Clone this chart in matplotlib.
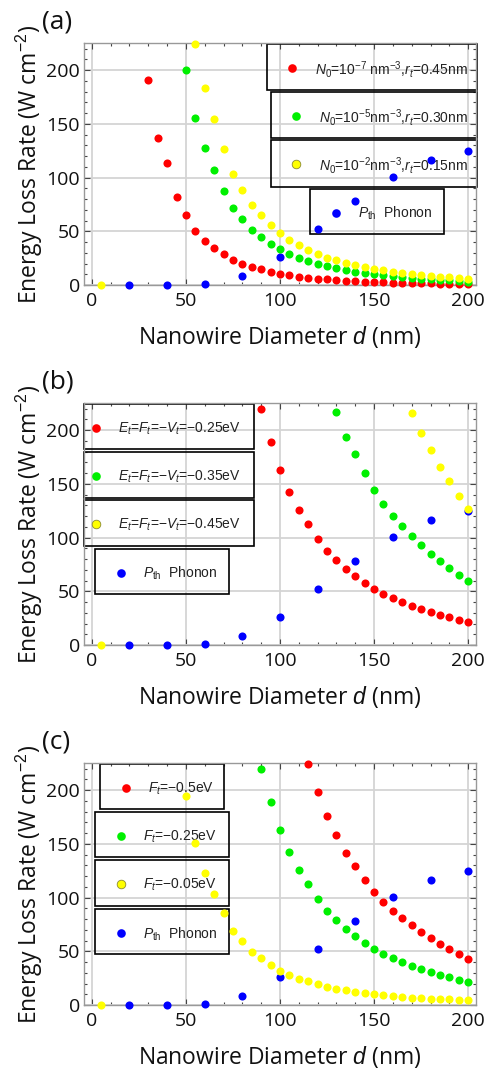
import matplotlib
matplotlib.use("Agg")
import matplotlib.pyplot as plt
from matplotlib.patches import Rectangle
from matplotlib.ticker import MultipleLocator

plt.rcParams['font.family'] = ['Open Sans', 'DejaVu Sans']
plt.rcParams['mathtext.fontset'] = 'custom'
plt.rcParams['mathtext.rm'] = 'Liberation Sans'
plt.rcParams['mathtext.it'] = 'Liberation Sans:italic'
plt.rcParams['mathtext.bf'] = 'Liberation Sans:bold'

# ---- data ----
d_phonon = [20, 40, 60, 80, 100, 120, 140, 160, 180, 200]
p_phonon = [0, 0, 1, 8.4, 26, 52, 78, 100.5, 116, 124.6]

# panel (a)
a_red_d = [30, 35, 40, 45, 50, 55, 60, 65, 70, 75, 80, 85, 90, 95, 100, 105, 110, 115, 120,
           125, 130, 135, 140, 145, 150, 155, 160, 165, 170, 175, 180, 185, 190, 195, 200]
a_red_p = [190.7, 137, 113.5, 81.9, 65.1, 50.2, 41.2, 34.7, 28.8, 23.6, 19.5, 17, 14.6, 12.1, 10.2,
           9, 7.8, 6.8, 5.9, 5.3, 4.7, 4, 3.7, 3.1, 2.8, 2.5, 2.2, 2, 1.8, 1.6, 1.5, 1.3, 1.2, 1.1, 1.0]
a_green_d = [50, 55, 60, 65, 70, 75, 80, 85, 90, 95, 100, 105, 110, 115, 120, 125, 130, 135,
             140, 145, 150, 155, 160, 165, 170, 175, 180, 185, 190, 195, 200]
a_green_p = [200, 155.3, 127.8, 107, 87.4, 71.6, 61.4, 51.2, 44.7, 38.1, 33.5, 28.8, 25.1, 22,
             19.5, 17.4, 15.8, 14, 12.4, 11.2, 9.9, 9, 8.1, 7.1, 6.5, 5.9, 5.3, 4.7, 4.3, 3.7, 3.1]
a_yellow_d = [5, 55, 60, 65, 70, 75, 80, 85, 90, 95, 100, 105, 110, 115, 120, 125, 130, 135,
              140, 145, 150, 155, 160, 165, 170, 175, 180, 185, 190, 195, 200]
a_yellow_p = [0, 224, 183, 154.4, 126.5, 103.3, 88.4, 74.4, 65.1, 55.5, 48.4, 41.9, 37.2, 32.6,
              28.8, 25.1, 23.3, 20.5, 18.3, 16.7, 14.9, 13.6, 12.1, 11.2, 9.9, 9, 8.4, 7.8, 7.1, 6.8, 5.9]

# panel (b)
b_red_d = [90, 95, 100, 105, 110, 115, 120, 125, 130, 135, 140, 145, 150, 155, 160, 165,
           170, 175, 180, 185, 190, 195, 200]
b_red_p = [219.5, 188.8, 162.8, 142, 125.6, 112.6, 98.6, 87.4, 79, 70.7, 64.2, 57.7, 52.1,
           47.4, 43.7, 40, 36.3, 33.5, 30.7, 27.9, 26, 23.3, 21.4]
b_green_d = [130, 135, 140, 145, 150, 155, 160, 165, 170, 175, 180, 185, 190, 195, 200]
b_green_p = [216.7, 193.5, 177.7, 160, 144.2, 131.2, 120, 110.7, 101.4, 93, 84.7, 78.1, 71.6, 65.1, 59.5]
b_yellow_d = [5, 170, 175, 180, 185, 190, 195, 200]
b_yellow_p = [0, 215.8, 197.2, 181.4, 165.6, 152.6, 138.6, 126.5]

# panel (c)
c_red_d = [115, 120, 125, 130, 135, 140, 145, 150, 155, 160, 165, 170, 175, 180, 185, 190, 195, 200]
c_red_p = [224.8, 198, 175.5, 157.8, 141.4, 129.3, 116.3, 105.1, 95.8, 87.4, 80.9, 74.4,
           67.9, 62.3, 56.7, 52.1, 47.4, 42.8]
c_green_d = b_red_d
c_green_p = b_red_p
c_yellow_d = [5, 50, 55, 60, 65, 70, 75, 80, 85, 90, 95, 100, 105, 110, 115, 120, 125, 130,
              135, 140, 145, 150, 155, 160, 165, 170, 175, 180, 185, 190, 195, 200]
c_yellow_p = [0, 194.4, 150.4, 122.8, 103.3, 85.6, 68.8, 59.5, 49.3, 43.7, 37.2, 31.6, 27.9,
              24.2, 22.3, 19.5, 16.7, 14.9, 14, 12.1, 11.2, 10.2, 9.3, 8.4, 7.4, 6.8, 6.5, 5.9,
              5.6, 5.3, 4.7, 4.3]

a_labels = [r'$N_0$=10$^{-7}$ nm$^{-3}$,$r_t$=0.45nm',
            r'$N_0$=10$^{-5}$nm$^{-3}$,$r_t$=0.30nm',
            r'$N_0$=10$^{-2}$nm$^{-3}$,$r_t$=0.15nm']
b_labels = [r'$E_t$=$F_t$=−$V_t$=−0.25eV',
            r'$E_t$=$F_t$=−$V_t$=−0.35eV',
            r'$E_t$=$F_t$=−$V_t$=−0.45eV']
c_labels = [r'$F_t$=−0.5eV', r'$F_t$=−0.25eV', r'$F_t$=−0.05eV']
phonon_label = r'$P_{\rm th}$  Phonon'

RED, GREEN, YELLOW, BLUE = '#ff0000', '#00f000', '#ffff00', '#0000ff'

W, H = 487, 1070
fig = plt.figure(figsize=(W / 100, H / 100), dpi=100)

AX_L, AX_R, AX_T, AX_B = 84.3, 475.7, 43.3, 285.0   # pixel box inside a 360px panel


def px2ax(x, y):
    # panel-relative pixel -> axes fraction
    return (x - AX_L) / (AX_R - AX_L), (AX_B - y) / (AX_B - AX_T)


def legend_box(ax, x0, x1, y0, y1, mx, tx, color, label, edge='none'):
    (fx0, fy1) = px2ax(x0, y0)
    (fx1, fy0) = px2ax(x1, y1)
    ax.add_patch(Rectangle((fx0, fy0), fx1 - fx0, fy1 - fy0, transform=ax.transAxes,
                           fill=False, ec='black', lw=1.2, clip_on=False, zorder=2))
    my = (y0 + y1) / 2 + 1
    fmx, fmy = px2ax(mx, my)
    ax.plot([fmx], [fmy], 'o', ms=6.2, color=color, mec=edge, mew=0.6,
            transform=ax.transAxes, clip_on=False, zorder=3)
    ftx, fty = px2ax(tx, my + 1)
    ax.text(ftx, fty, label, transform=ax.transAxes, fontsize=10, va='center', ha='left',
            family='Liberation Sans', color='#222222', zorder=3)


def panel(k, tag, series, labels, boxes):
    top = k * 360
    ax = fig.add_axes([AX_L / W, 1 - (top + AX_B) / H, (AX_R - AX_L) / W, (AX_B - AX_T) / H])
    ax.set_xlim(-4, 204)
    ax.set_ylim(0, 225)
    ax.xaxis.set_major_locator(MultipleLocator(50))
    ax.xaxis.set_minor_locator(MultipleLocator(10))
    ax.yaxis.set_major_locator(MultipleLocator(50))
    ax.yaxis.set_minor_locator(MultipleLocator(10))
    ax.tick_params(which='both', direction='in', top=True, right=True, colors='#444444',
                   labelcolor='#111111', labelsize=14, width=0.8)
    ax.tick_params(which='major', length=4.5)
    ax.tick_params(axis='x', which='major', pad=5)
    ax.tick_params(axis='y', which='major', pad=3)
    ax.tick_params(which='minor', length=2.5)
    for s in ax.spines.values():
        s.set_color('#999999')
        s.set_linewidth(1.0)
    ax.grid(True, which='major', color='#d4d4d4', lw=1.3)
    ax.set_axisbelow(True)

    ax.scatter(d_phonon, p_phonon, s=34, color=BLUE, lw=0, clip_on=False, zorder=4)
    for (dd, pp, col) in series:
        ax.scatter(dd, pp, s=34, color=col, lw=0, clip_on=False, zorder=5)

    ax.set_xlabel(r'Nanowire Diameter $d$ (nm)', fontsize=16.5, labelpad=10, color='#111111')
    ax.set_ylabel(r'Energy Loss Rate (W cm$^{-2}$)', fontsize=16.5, labelpad=1, color='#111111')
    fig.text(42 / W, 1 - (top + 22) / H, tag, fontsize=19, va='center', ha='left', color='#111111')

    cols = [RED, GREEN, YELLOW, BLUE]
    edges = ['none', 'none', '#8a8a30', 'none']
    labs = list(labels) + [phonon_label]
    for b, c, e, l in zip(boxes, cols, edges, labs):
        legend_box(ax, *b, c, l, e)
    return ax


panel(0, '(a)',
      [(a_red_d, a_red_p, RED), (a_green_d, a_green_p, GREEN), (a_yellow_d, a_yellow_p, YELLOW)],
      a_labels,
      [(266.7, 476.7, 44.3, 90.0, 292, 315),
       (270.7, 476.7, 92.3, 138.3, 296, 319),
       (270.7, 476.7, 140.3, 186.7, 296, 319),
       (310.0, 444.3, 189.3, 234.3, 335.7, 357.7)])

panel(1, '(b)',
      [(b_red_d, b_red_p, RED), (b_green_d, b_green_p, GREEN), (b_yellow_d, b_yellow_p, YELLOW)],
      b_labels,
      [(84.3, 254.0, 44.3, 89.3, 96, 118.3),
       (84.3, 254.0, 92.3, 137.7, 96, 118.3),
       (84.3, 254.0, 140.3, 186.0, 96, 118.3),
       (94.7, 229.3, 189.3, 234.3, 120.7, 143.3)])

panel(2, '(c)',
      [(c_red_d, c_red_p, RED), (c_green_d, c_green_p, GREEN), (c_yellow_d, c_yellow_p, YELLOW)],
      c_labels,
      [(99.7, 224.0, 44.3, 89.3, 126, 147.7),
       (94.7, 229.3, 92.3, 137.3, 120.7, 143.3),
       (94.7, 229.3, 140.3, 186.0, 120.7, 143.3),
       (94.7, 229.3, 189.3, 234.3, 120.7, 143.3)])

fig.savefig('out.png', dpi=100)
